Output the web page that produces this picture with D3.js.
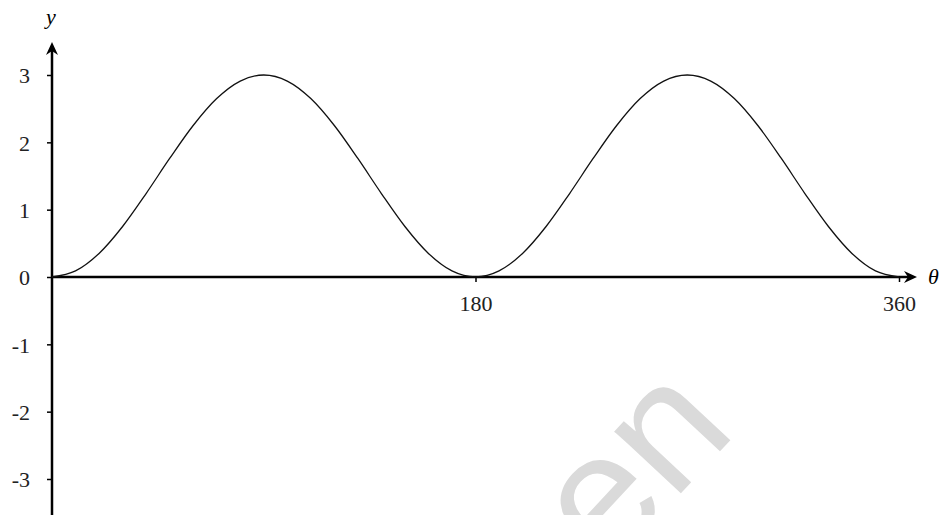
<!DOCTYPE html>
<html>
<head>
<meta charset="utf-8">
<script src="https://cdn.jsdelivr.net/npm/d3@7"></script>
<style>
  html, body { margin: 0; padding: 0; background: #fff; }
  svg { display: block; }
</style>
</head>
<body>
<svg id="chart"></svg>
<script>
// значения (шаг 10°)
const thetaValues = [0, 10, 20, 30, 40, 50, 60, 70, 80, 90, 100, 110, 120, 130, 140, 150, 160, 170, 180,
  190, 200, 210, 220, 230, 240, 250, 260, 270, 280, 290, 300, 310, 320, 330, 340, 350, 360];
const yValues = [0, 0.09, 0.35, 0.75, 1.24, 1.76, 2.25, 2.65, 2.91, 3, 2.91, 2.65, 2.25, 1.76, 1.24, 0.75, 0.35, 0.09, 0,
  0.09, 0.35, 0.75, 1.24, 1.76, 2.25, 2.65, 2.91, 3, 2.91, 2.65, 2.25, 1.76, 1.24, 0.75, 0.35, 0.09, 0];
const yTicks = [-3, -2, -1, 0, 1, 2, 3];
const xTicks = [180, 360];

const width = 941, height = 515;
const serif = '"Liberation Serif", "Times New Roman", serif';

const svg = d3.select('#chart')
  .attr('width', width)
  .attr('height', height);

const x = d3.scaleLinear().domain([0, 360]).range([52, 899]);
const y = d3.scaleLinear().domain([-3, 3]).range([479, 75]);

// водяной знак
svg.append('text')
  .attr('transform', 'translate(738,432) rotate(-47)')
  .attr('text-anchor', 'end')
  .attr('font-family', '"Liberation Sans", Arial, sans-serif')
  .attr('font-size', 172)
  .attr('fill', '#dadada')
  .text('een');

// оси
const x0 = x(0), y0 = y(0);

svg.append('line')
  .attr('x1', x0).attr('y1', height)
  .attr('x2', x0).attr('y2', 50)
  .attr('stroke', '#000').attr('stroke-width', 2.5);

svg.append('line')
  .attr('x1', x0).attr('y1', y0)
  .attr('x2', 908).attr('y2', y0)
  .attr('stroke', '#000').attr('stroke-width', 2.5);

// стрелки
svg.append('path')
  .attr('d', `M${x0},42 L${x0 + 6},55 L${x0},51 L${x0 - 6},55 Z`)
  .attr('fill', '#000');

svg.append('path')
  .attr('d', `M917,${y0} L904,${y0 - 6} L908,${y0} L904,${y0 + 6} Z`)
  .attr('fill', '#000');

// деления
const yAxis = d3.axisLeft(y)
  .tickValues(yTicks)
  .tickSize(5)
  .tickPadding(17)
  .tickFormat(d => String(d));

svg.append('g')
  .attr('transform', `translate(${x0},0)`)
  .call(yAxis)
  .call(g => g.select('.domain').remove())
  .call(g => g.selectAll('.tick line').attr('stroke', '#000').attr('stroke-width', 1.5))
  .call(g => g.selectAll('.tick text')
    .attr('dy', '0.35em')
    .attr('fill', '#222')
    .style('font-family', serif)
    .style('font-size', '22px'));

const xAxis = d3.axisBottom(x)
  .tickValues(xTicks)
  .tickSize(5)
  .tickPadding(13)
  .tickFormat(d => String(d));

svg.append('g')
  .attr('transform', `translate(0,${y0})`)
  .call(xAxis)
  .call(g => g.select('.domain').remove())
  .call(g => g.selectAll('.tick line').attr('stroke', '#000').attr('stroke-width', 1.5))
  .call(g => g.selectAll('.tick text')
    .attr('fill', '#222')
    .style('font-family', serif)
    .style('font-size', '22px'));

// подписи осей
svg.append('text')
  .attr('x', x0 - 6).attr('y', 24)
  .attr('font-family', serif)
  .attr('font-style', 'italic')
  .attr('font-size', 22)
  .text('y');

svg.append('text')
  .attr('x', 928).attr('y', y0 + 7)
  .attr('font-family', serif)
  .attr('font-style', 'italic')
  .attr('font-size', 22)
  .text('θ');

// кривая
const points = thetaValues.map((t, i) => [t, yValues[i]]);

const line = d3.line()
  .x(d => x(d[0]))
  .y(d => y(d[1]))
  .curve(d3.curveMonotoneX);

svg.append('path')
  .datum(points)
  .attr('d', line)
  .attr('fill', 'none')
  .attr('stroke', '#111')
  .attr('stroke-width', 1.3);
</script>
</body>
</html>
